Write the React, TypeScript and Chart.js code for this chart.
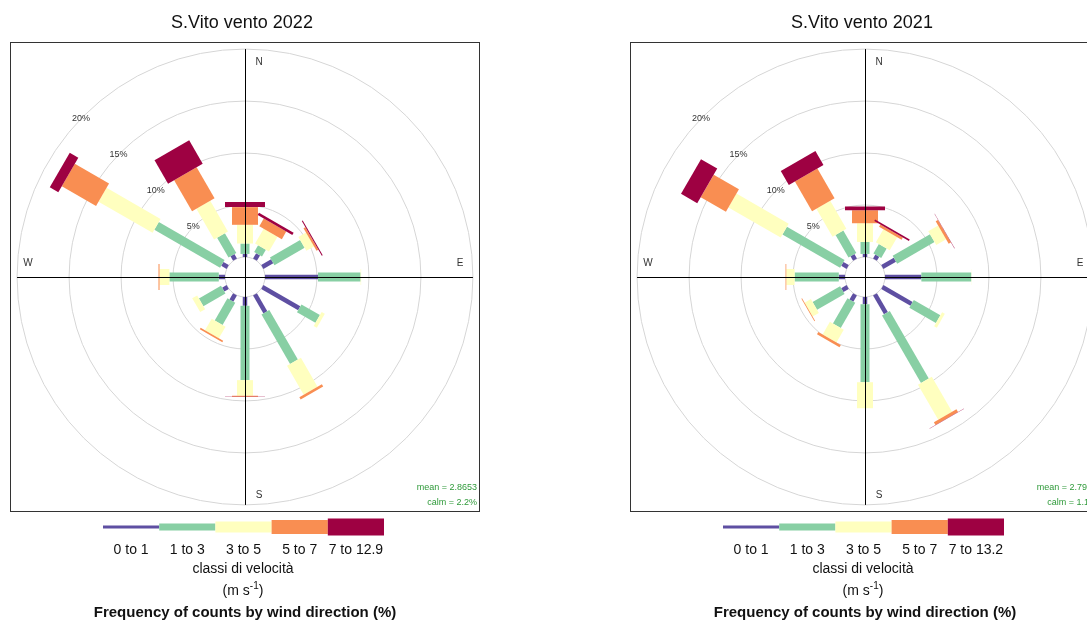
import React, { useEffect, useRef } from "react";
import { Chart, registerables } from "chart.js";

Chart.register(...registerables);

// ---------- data ----------
const DIRECTIONS = [0, 30, 60, 90, 120, 150, 180, 210, 240, 270, 300, 330];
const CLASSES_2022 = ["0 to 1", "1 to 3", "3 to 5", "5 to 7", "7 to 12.9"];
const CLASSES_2021 = ["0 to 1", "1 to 3", "3 to 5", "5 to 7", "7 to 13.2"];
const GRID_PERCENTS = [5, 10, 15, 20];
const GRID_LABELS = ["5%", "10%", "15%", "20%"];
const COMPASS = ["N", "E", "S", "W"];

// frequency (%) by direction, one array per speed class — 2022
const F2022_0to1 = [0.3, 0.6, 1.1, 5.1, 4.1, 2.0, 0.85, 0.7, 0.5, 0.6, 0.6, 0.5];
const F2022_1to3 = [1.0, 0.75, 3.35, 4.1, 2.05, 5.5, 7.15, 2.45, 2.45, 4.75, 7.3, 2.2];
const F2022_3to5 = [1.8, 1.65, 0.85, 0.05, 0.35, 3.2, 1.5, 1.3, 0.55, 0.95, 6.0, 3.4];
const F2022_5to7 = [1.7, 0.85, 0.2, 0, 0, 0.25, 0.1, 0.15, 0, 0.1, 3.8, 3.45];
const F2022_7up = [0.5, 0.25, 0.1, 0, 0, 0, 0.02, 0, 0, 0, 0.95, 2.6];

// 2021
const F2021_0to1 = [0.3, 0.45, 1.4, 3.5, 3.25, 2.1, 0.7, 0.7, 0.6, 0.6, 0.6, 0.5];
const F2021_1to3 = [1.15, 1.05, 4.15, 4.8, 2.95, 7.5, 7.5, 2.8, 3.05, 4.25, 6.4, 2.5];
const F2021_3to5 = [1.8, 1.45, 1.1, 0.02, 0.3, 3.9, 2.5, 1.4, 0.7, 0.8, 5.8, 3.1];
const F2021_5to7 = [1.25, 0.25, 0.25, 0, 0, 0.3, 0, 0.25, 0.07, 0.07, 2.8, 3.3];
const F2021_7up = [0.35, 0.15, 0.03, 0, 0, 0.02, 0, 0, 0, 0, 1.8, 1.55];

const MEAN_2022 = "mean = 2.8653";
const CALM_2022 = "calm = 2.2%";
const MEAN_2021 = "mean = 2.7962";
const CALM_2021 = "calm = 1.1%";

// ---------- style ----------
const COLORS = ["#5E4FA2", "#88CFA4", "#FFFFBF", "#F98E52", "#9E0142"];
const PADDLE_PX = [4.5, 9, 16, 26, 40];
const LEGEND_THICK = [3, 7, 11, 14, 17];
const OFFSET = 1.92; // inner radius, in % units
const HALF_RANGE = 22.6; // axis half range, in % units
const FONT = '"Liberation Sans", Arial, sans-serif';

function makePlugin(title: string, classes: string[], freqs: number[][], mean: string, calm: string) {
  return {
    id: "windrose",
    afterDraw(chart: any) {
      const ctx = chart.ctx as CanvasRenderingContext2D;
      const xs = chart.scales.x;
      const ys = chart.scales.y;
      const ca = chart.chartArea;
      const cx = xs.getPixelForValue(0);
      const cy = ys.getPixelForValue(0);
      const ppu = xs.getPixelForValue(1) - cx;
      const toPx = (x: number, y: number): [number, number] => [xs.getPixelForValue(x), ys.getPixelForValue(y)];

      ctx.save();
      ctx.beginPath();
      ctx.rect(ca.left, ca.top, ca.right - ca.left, ca.bottom - ca.top);
      ctx.clip();

      // grid circles
      ctx.strokeStyle = "#d6d6d6";
      ctx.lineWidth = 1;
      [0, ...GRID_PERCENTS].forEach((p) => {
        ctx.beginPath();
        ctx.arc(cx, cy, (OFFSET + p) * ppu, 0, Math.PI * 2);
        ctx.stroke();
      });

      // paddles
      DIRECTIONS.forEach((d, j) => {
        let cum = 0;
        freqs.forEach((series, i) => {
          const v = series[j];
          const r1 = OFFSET + cum;
          const r2 = OFFSET + cum + v;
          cum += v;
          if (v <= 0) return;
          const hw = PADDLE_PX[i] / 2 / ppu;
          const t = (d * Math.PI) / 180;
          const s = Math.sin(t);
          const c = Math.cos(t);
          const pts: [number, number][] = [
            [r1 * s + hw * c, r1 * c - hw * s],
            [r2 * s + hw * c, r2 * c - hw * s],
            [r2 * s - hw * c, r2 * c + hw * s],
            [r1 * s - hw * c, r1 * c + hw * s],
          ];
          ctx.beginPath();
          pts.forEach(([x, y], k) => {
            const [px, py] = toPx(x, y);
            if (k === 0) ctx.moveTo(px, py);
            else ctx.lineTo(px, py);
          });
          ctx.closePath();
          ctx.fillStyle = COLORS[i];
          ctx.fill();
        });
      });

      // axis lines
      const ext = OFFSET + GRID_PERCENTS[GRID_PERCENTS.length - 1];
      ctx.strokeStyle = "#000";
      ctx.lineWidth = 1;
      const lx = Math.round(cx) + 0.5;
      const ly = Math.round(cy) + 0.5;
      ctx.beginPath();
      ctx.moveTo(xs.getPixelForValue(-ext), ly);
      ctx.lineTo(xs.getPixelForValue(ext), ly);
      ctx.moveTo(lx, ys.getPixelForValue(ext));
      ctx.lineTo(lx, ys.getPixelForValue(-ext));
      ctx.stroke();

      // grid labels
      ctx.fillStyle = "#333";
      ctx.font = `9px ${FONT}`;
      ctx.textAlign = "center";
      ctx.textBaseline = "middle";
      GRID_PERCENTS.forEach((p, i) => {
        const t = (314 * Math.PI) / 180;
        const r = OFFSET + p;
        const [px, py] = toPx(r * Math.sin(t), r * Math.cos(t));
        ctx.fillText(GRID_LABELS[i], px, py);
      });

      // compass labels
      ctx.font = `10px ${FONT}`;
      ctx.fillText(COMPASS[0], cx + 14, cy - 215);
      ctx.fillText(COMPASS[1], cx + 215, cy - 14);
      ctx.fillText(COMPASS[2], cx + 14, cy + 218);
      ctx.fillText(COMPASS[3], cx - 217, cy - 14);

      // mean / calm
      ctx.fillStyle = "#2f9a3a";
      ctx.font = `9px ${FONT}`;
      ctx.textAlign = "right";
      ctx.textBaseline = "alphabetic";
      ctx.fillText(mean, ca.right - 3, ca.bottom - 22);
      ctx.fillText(calm, ca.right - 3, ca.bottom - 7);
      ctx.restore();

      // box
      ctx.save();
      ctx.strokeStyle = "#333";
      ctx.lineWidth = 1;
      ctx.strokeRect(ca.left + 0.5, ca.top + 0.5, ca.right - ca.left - 1, ca.bottom - ca.top - 1);

      // title
      ctx.fillStyle = "#111";
      ctx.font = `18px ${FONT}`;
      ctx.textAlign = "center";
      ctx.textBaseline = "alphabetic";
      ctx.fillText(title, cx - 3, ca.top - 14);

      // legend key
      const lx0 = cx - 142;
      const segW = 281 / classes.length;
      const ky = ca.bottom + 15;
      classes.forEach((lab, i) => {
        ctx.fillStyle = COLORS[i];
        ctx.fillRect(lx0 + i * segW, ky - LEGEND_THICK[i] / 2, segW, LEGEND_THICK[i]);
      });
      ctx.fillStyle = "#111";
      ctx.font = `14px ${FONT}`;
      classes.forEach((lab, i) => {
        ctx.fillText(lab, lx0 + (i + 0.5) * segW, ca.bottom + 42);
      });
      ctx.fillText("classi di velocità", cx - 2, ca.bottom + 61);

      // (m s^-1)
      const p1 = "(m s";
      const p2 = "-1";
      const p3 = ")";
      ctx.font = `14px ${FONT}`;
      const w1 = ctx.measureText(p1).width;
      const w3 = ctx.measureText(p3).width;
      ctx.font = `10px ${FONT}`;
      const w2 = ctx.measureText(p2).width;
      const total = w1 + w2 + w3;
      let sx = cx - 2 - total / 2;
      const by = ca.bottom + 83;
      ctx.textAlign = "left";
      ctx.font = `14px ${FONT}`;
      ctx.fillText(p1, sx, by);
      sx += w1;
      ctx.font = `10px ${FONT}`;
      ctx.fillText(p2, sx, by - 6);
      sx += w2;
      ctx.font = `14px ${FONT}`;
      ctx.fillText(p3, sx, by);

      ctx.textAlign = "center";
      ctx.font = `bold 15px ${FONT}`;
      ctx.fillText("Frequency of counts by wind direction (%)", cx, ca.bottom + 105);
      ctx.restore();
    },
  };
}

type PanelProps = {
  left: number;
  title: string;
  classes: string[];
  freqs: number[][];
  mean: string;
  calm: string;
};

function RosePanel({ left, title, classes, freqs, mean, calm }: PanelProps) {
  const ref = useRef<HTMLCanvasElement | null>(null);
  useEffect(() => {
    if (!ref.current) return;
    const chart = new Chart(ref.current, {
      type: "scatter",
      data: {
        datasets: classes.map((label, i) => ({
          label,
          data: DIRECTIONS.map((d, j) => ({ x: d, y: freqs[i][j] })),
          backgroundColor: COLORS[i],
          pointRadius: 0,
          showLine: false,
        })),
      },
      options: {
        animation: false,
        responsive: false,
        maintainAspectRatio: false,
        events: [],
        layout: { padding: { left: 10, top: 42, right: 20, bottom: 108 } },
        scales: {
          x: { type: "linear", min: -HALF_RANGE, max: HALF_RANGE, display: false },
          y: { type: "linear", min: -HALF_RANGE, max: HALF_RANGE, display: false },
        },
        plugins: {
          legend: { display: false },
          tooltip: { enabled: false },
          title: { display: false },
        },
      },
      plugins: [makePlugin(title, classes, freqs, mean, calm)],
    } as any);
    return () => chart.destroy();
  }, []);
  return (
    <canvas
      ref={ref}
      width={500}
      height={620}
      style={{ position: "absolute", left, top: 0, width: 500, height: 620 }}
    />
  );
}

export default function App() {
  return (
    <div
      style={{
        position: "absolute",
        left: 0,
        top: 0,
        width: 1087,
        height: 620,
        overflow: "hidden",
        background: "#fff",
      }}
    >
      <RosePanel
        left={0}
        title="S.Vito vento 2022"
        classes={CLASSES_2022}
        freqs={[F2022_0to1, F2022_1to3, F2022_3to5, F2022_5to7, F2022_7up]}
        mean={MEAN_2022}
        calm={CALM_2022}
      />
      <RosePanel
        left={620}
        title="S.Vito vento 2021"
        classes={CLASSES_2021}
        freqs={[F2021_0to1, F2021_1to3, F2021_3to5, F2021_5to7, F2021_7up]}
        mean={MEAN_2021}
        calm={CALM_2021}
      />
    </div>
  );
}
